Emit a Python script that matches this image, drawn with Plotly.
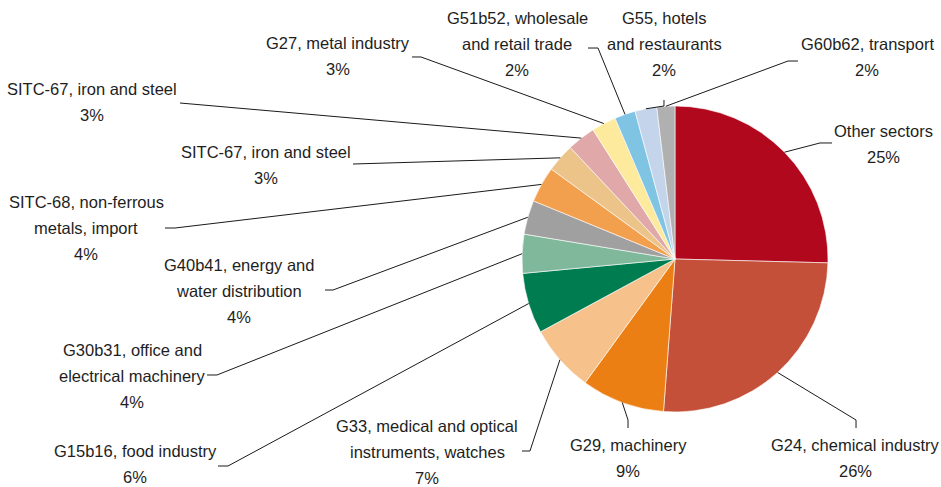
import math
import plotly.graph_objects as go

# --- data -------------------------------------------------------------
sector_lines = [
    ["Other sectors"],
    ["G24, chemical industry"],
    ["G29, machinery"],
    ["G33, medical and optical", "instruments, watches"],
    ["G15b16, food industry"],
    ["G30b31, office and", "electrical machinery"],
    ["G40b41, energy and", "water distribution"],
    ["SITC-68, non-ferrous", "metals, import"],
    ["SITC-67, iron and steel"],
    ["SITC-67, iron and steel"],
    ["G27, metal industry"],
    ["G51b52, wholesale", "and retail trade"],
    ["G55, hotels", "and restaurants"],
    ["G60b62, transport"],
]
shares = [25.4, 25.8, 8.8, 7.1, 6.4, 4.1, 3.6, 3.8, 3.0, 3.0, 2.6, 2.2, 2.3, 1.9]
colors = ["#B1081E", "#C4503A", "#EC7F13", "#F7C18B", "#007D50", "#80B89C",
          "#A0A0A0", "#F3A04E", "#ECC48A", "#E0A8A8", "#FDEA9C", "#80C4E4",
          "#C4D4EA", "#B0B0B0"]

# --- geometry (pixels) ------------------------------------------------
W, H = 941, 487
CX, CY, R = 675, 259, 153

# label block: centre x, first-line y, leader-line knots after the slice edge
label_pos = [
    (883, 131, [(820, 143), (832, 143)]),
    (855, 445, [(856, 420), (856, 428)]),
    (628, 445, [(628, 420), (628, 428)]),
    (427, 426, [(530, 451), (522, 451)]),
    (135, 451, [(228, 466), (218, 466)]),
    (132, 350, [(217, 375), (207, 375)]),
    (239, 265, [(333, 290), (325, 290)]),
    (86, 202, [(175, 228), (165, 228)]),
    (266, 152, [(353, 164)]),
    (92, 89, [(180, 103)]),
    (338, 43, [(421, 57), (412, 57)]),
    (517, 18, [(598, 48), (588, 48)]),
    (664, 18, [(664, 106), (664, 100)]),
    (867, 44, [(788, 61), (798, 61)]),
]
LINE_GAP = 26.2
FONT = "Liberation Sans, Arial, sans-serif"


def px(x, y):
    return x / W, 1 - y / H


fig = go.Figure(go.Pie(
    labels=[str(i) for i in range(len(shares))],
    values=shares,
    hovertext=[" ".join(l) for l in sector_lines],
    hoverinfo="text+percent",
    sort=False,
    direction="clockwise",
    rotation=0,
    marker=dict(colors=colors, line=dict(color="white", width=0.6)),
    textinfo="none",
    showlegend=False,
    domain=dict(x=[(CX - R) / W, (CX + R) / W],
                y=[1 - (CY + R) / H, 1 - (CY - R) / H]),
))

total = sum(shares)
cum = 0.0
shapes, annotations = [], []
for i, v in enumerate(shares):
    mid = (cum + v / 2) / total * 2 * math.pi
    cum += v
    sx, sy = CX + R * math.sin(mid), CY - R * math.cos(mid)
    tx, ty, knots = label_pos[i]
    pts = [(sx, sy)] + knots
    path = "M " + " L ".join("{:.4f},{:.4f}".format(*px(x, y)) for x, y in pts)
    shapes.append(dict(type="path", path=path, xref="paper", yref="paper",
                       line=dict(color="#1a1a1a", width=1)))
    lines = sector_lines[i] + ["{:.0f}%".format(round(v / total * 100))]
    for k, txt in enumerate(lines):
        ax, ay = px(tx, ty + k * LINE_GAP)
        annotations.append(dict(text=txt, x=ax, y=ay, xref="paper", yref="paper",
                                xanchor="center", yanchor="middle", showarrow=False,
                                font=dict(family=FONT, size=16.5, color="#1e1e1e")))

fig.update_layout(
    width=W, height=H,
    margin=dict(l=0, r=0, t=0, b=0),
    paper_bgcolor="white",
    plot_bgcolor="white",
    shapes=shapes,
    annotations=annotations,
)

fig.write_html("out.html")
